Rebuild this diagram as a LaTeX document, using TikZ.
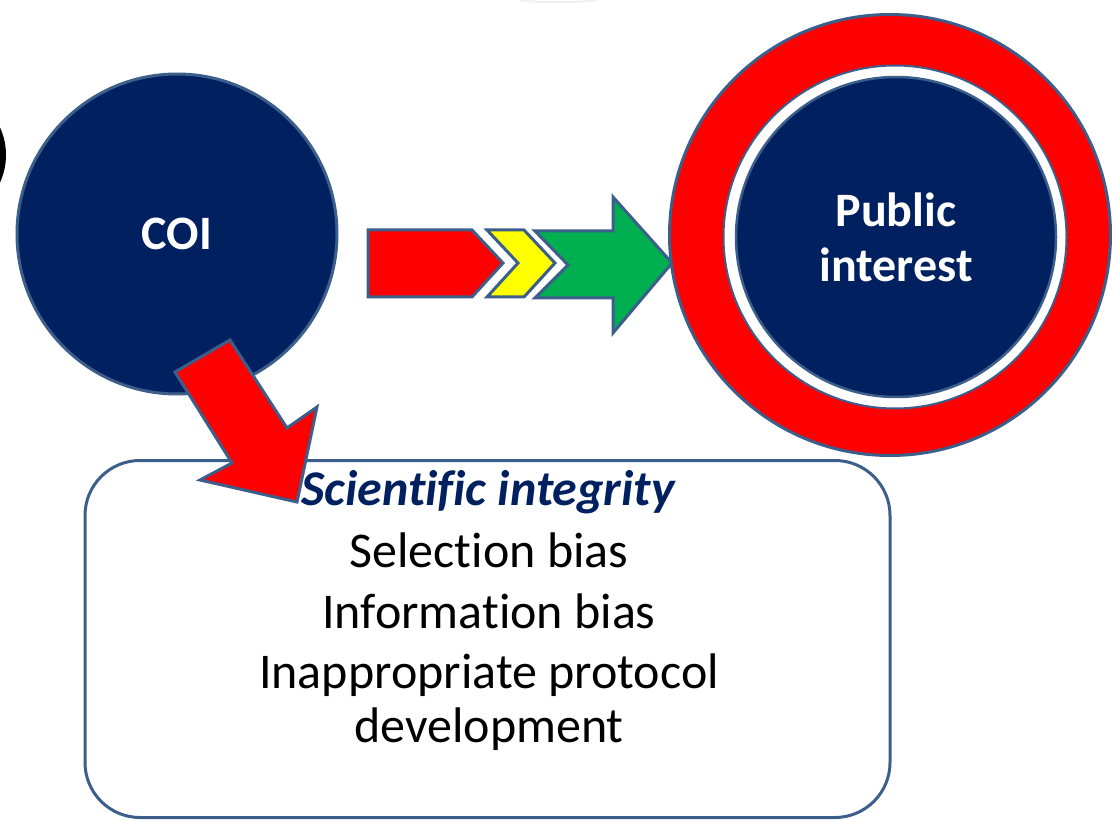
\documentclass[tikz,border=0pt]{standalone}
\usepackage{fontspec}
\setmainfont{Carlito}[Ligatures=NoCommon]
\definecolor{navy}{HTML}{002060}
\definecolor{edgeblue}{RGB}{60,94,138}
\definecolor{pptred}{HTML}{FF0000}
\definecolor{pptyellow}{HTML}{FFFF00}
\definecolor{pptgreen}{HTML}{00B050}
\begin{document}
\begin{tikzpicture}[x=1pt,y=-1pt,
  outl/.style={draw=edgeblue,line width=3pt,line join=miter},
  bigtext/.style={text=white,font=\fontsize{48}{55}\selectfont\bfseries},
  boxtext/.style={anchor=base,inner sep=0pt,font=\fontsize{50}{58}\selectfont}]
\useasboundingbox (0,0) rectangle (1112,821);
\clip (0,0) rectangle (1112,821);
% faint shadow arc at the top
\draw[gray!12, line width=2pt] (520,0) .. controls (540,3) and (578,3) .. (597,0);
% black arc at the left edge
\node[circle, draw=black, line width=6pt, minimum size=126pt, inner sep=0pt] (leftring) at (-60,155) {};
% arrows to public interest
\draw[outl, fill=pptred] (368,230) -- (472,230) -- (503,263) -- (472,297) -- (368,297) -- cycle;
\draw[outl, fill=pptyellow] (487,230) -- (524,230) -- (555,263) -- (524,297) -- (487,297) -- (518,263) -- cycle;
\draw[outl, fill=pptgreen] (535,231) -- (613,231) -- (613,197) -- (672,263) -- (613,333) -- (613,298) -- (535,298) -- (568,265) -- cycle;
% public interest
\node[circle, fill=pptred, draw=edgeblue, line width=3pt, minimum size=441pt, inner sep=0pt] (ring) at (890,235) {};
\node[circle, fill=white, draw=edgeblue, line width=2pt, minimum size=343pt, inner sep=0pt] (gap) at (895,237) {};
\node[circle, fill=navy, draw=edgeblue, line width=2.5pt, minimum size=320pt, inner sep=0pt, align=center, bigtext] (pi) at (896,237) {Public\\interest};
% COI
\node[circle, fill=navy, draw=edgeblue, line width=3pt, minimum size=320pt, inner sep=0pt, bigtext] (coi) at (177,234) {COI};
% box
\node[draw=edgeblue, line width=3pt, rounded corners=55pt, minimum width=805pt, minimum height=357pt, inner sep=0pt] (box) at (487.5,639) {};
\node[boxtext, font=\fontsize{50}{58}\selectfont\bfseries\itshape, text=navy] (sci) at (488,505) {Scientific integrity};
\node[boxtext] (l1) at (489,567) {Selection bias};
\node[boxtext] (l2) at (489,628) {Information bias};
\node[boxtext] (l3) at (489,688) {Inappropriate protocol};
\node[boxtext] (l4) at (489,742) {development};
% down arrow
\draw[outl, fill=pptred] (175,372) -- (230,340) -- (287,428) -- (317,407) -- (297,502) -- (200,480) -- (232,463) -- cycle;
\end{tikzpicture}
\end{document}
